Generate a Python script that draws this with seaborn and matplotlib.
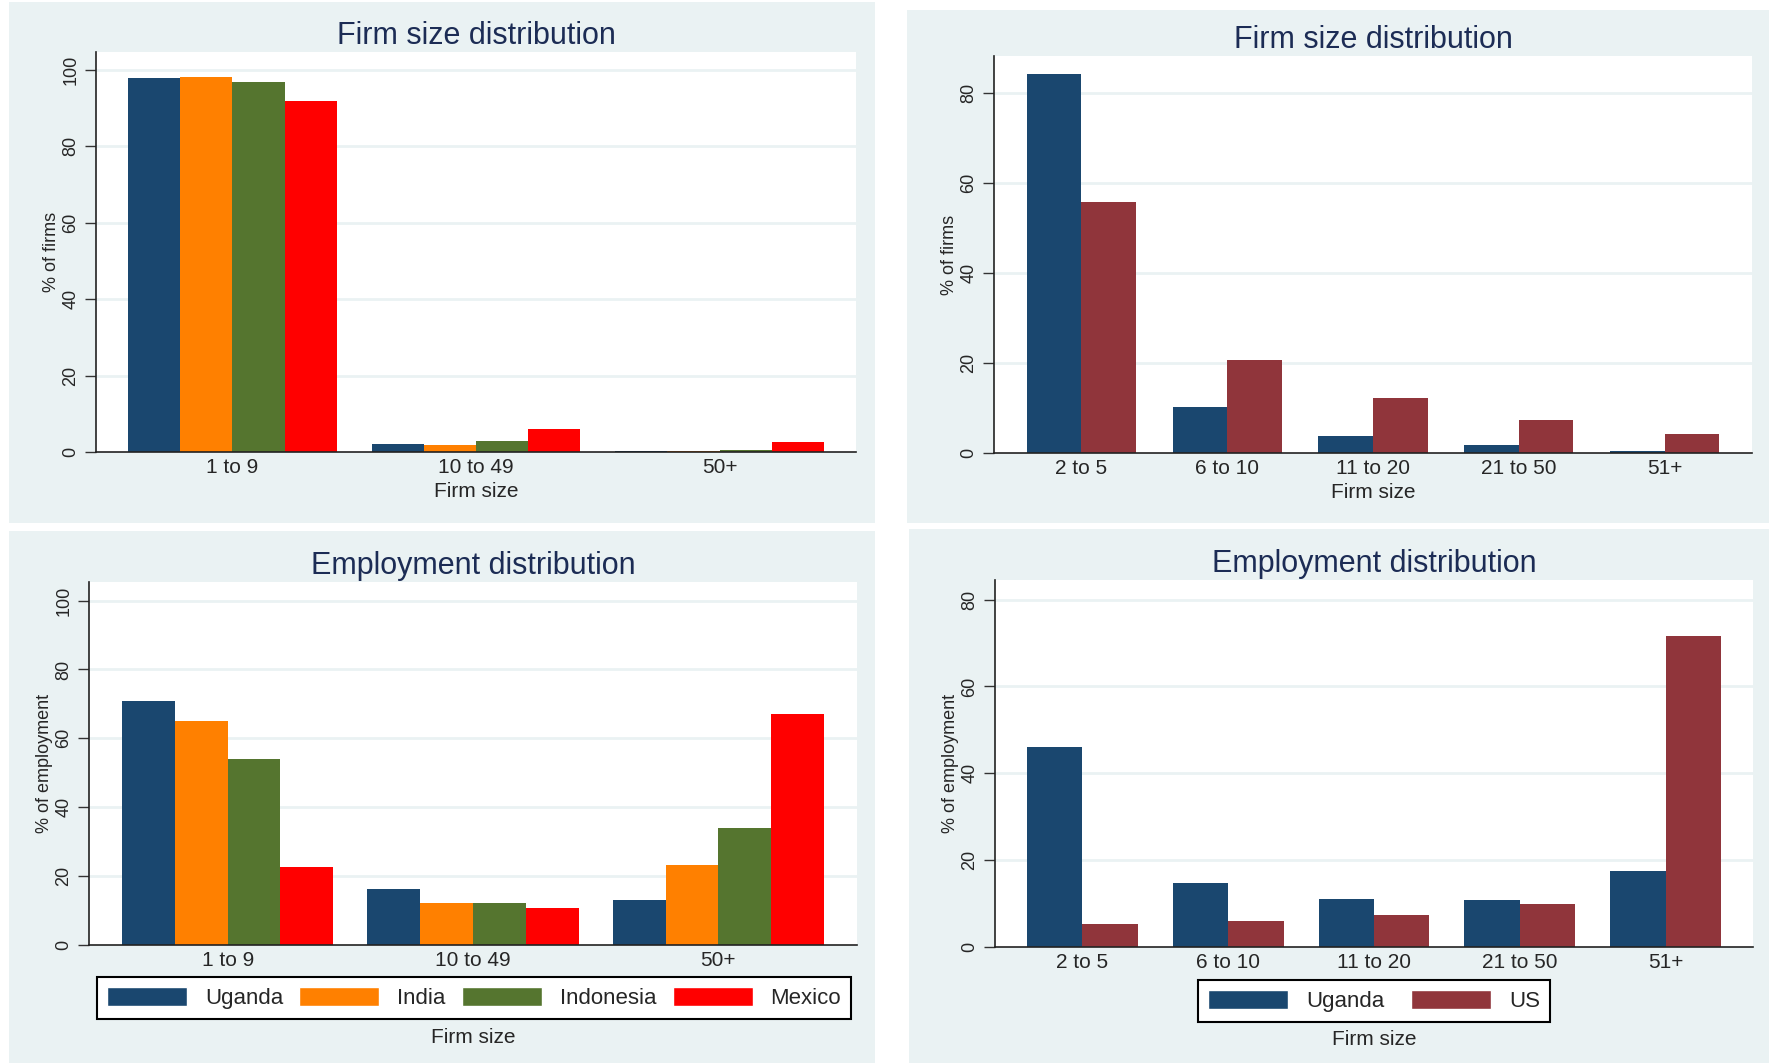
import matplotlib
matplotlib.use("Agg")
import matplotlib.pyplot as plt
from matplotlib.patches import Rectangle
import seaborn as sns
import pandas as pd

# data
sizes_4 = ['1 to 9', '10 to 49', '50+']
countries_4 = ['Uganda', 'India', 'Indonesia', 'Mexico']
firms_4 = {
    'Uganda': [97.8, 2.2, 0.2],
    'India': [98.1, 1.9, 0.3],
    'Indonesia': [96.9, 2.9, 0.5],
    'Mexico': [91.8, 6.0, 2.5],
}
employ_4 = {
    'Uganda': [70.8, 16.2, 13.2],
    'India': [64.9, 12.1, 23.3],
    'Indonesia': [54.0, 12.1, 34.1],
    'Mexico': [22.6, 10.7, 67.0],
}

sizes_us = ['2 to 5', '6 to 10', '11 to 20', '21 to 50', '51+']
countries_us = ['Uganda', 'US']
firms_us = {
    'Uganda': [84.1, 10.2, 3.8, 1.8, 0.4],
    'US': [55.7, 20.6, 12.3, 7.4, 4.3],
}
employ_us = {
    'Uganda': [46.0, 14.8, 11.0, 10.8, 17.6],
    'US': [5.3, 6.1, 7.4, 9.9, 71.6],
}

colors = {'Uganda': '#1a476f', 'India': '#ff8000', 'Indonesia': '#55752f',
          'Mexico': '#ff0000', 'US': '#90353b'}
bg = '#eaf2f3'
title_color = '#1c2c55'

sns.set_theme(style='white')
plt.rcParams['font.family'] = ['Liberation Sans', 'DejaVu Sans']

W, H = 1769, 1063
fig = plt.figure(figsize=(W / 100, H / 100), dpi=100)


def px_rect(x0, y0, x1, y1):
    # pixel box (top-left origin) -> figure fraction [l, b, w, h]
    return [x0 / W, 1 - y1 / H, (x1 - x0) / W, (y1 - y0) / H]


# grey panel backgrounds, kept behind the axes
for x0, y0, x1, y1 in [(9, 2, 875, 523), (907, 10, 1769, 523),
                       (9, 531, 875, 1063), (909, 529, 1769, 1063)]:
    l, b, w, h = px_rect(x0, y0, x1, y1)
    fig.patches.append(Rectangle((l, b), w, h, transform=fig.transFigure,
                                 facecolor=bg, edgecolor='none', zorder=-5))


def to_long(values, sizes, countries):
    rows = []
    for c in countries:
        for s, v in zip(sizes, values[c]):
            rows.append({'size': s, 'country': c, 'value': v})
    return pd.DataFrame(rows)


def draw(box, df, sizes, countries, ylabel, title, ymax, yticks, width, xpad):
    ax = fig.add_axes(px_rect(*box))
    sns.barplot(data=df, x='size', y='value', hue='country', order=sizes,
                hue_order=countries, palette=colors, width=width,
                saturation=1, legend=False, ax=ax, linewidth=0, zorder=3)
    ax.set_facecolor('white')
    ax.set_ylim(0, ymax)
    ax.set_xlim(-xpad, len(sizes) - 1 + xpad)
    ax.set_yticks(yticks)
    ax.set_yticklabels([str(t) for t in yticks], rotation=90, va='center', fontsize=13)
    for t in yticks[1:]:
        ax.axhline(t, color=bg, lw=2, zorder=1)
    ax.tick_params(axis='y', left=True, length=8, width=1, color='#333333', pad=4)
    ax.tick_params(axis='x', bottom=False, length=0, labelsize=15, pad=4)
    for side in ['top', 'right']:
        ax.spines[side].set_visible(False)
    for side in ['left', 'bottom']:
        ax.spines[side].set_color('#222222')
        ax.spines[side].set_linewidth(1.2)
    ax.spines['bottom'].set_zorder(5)
    ax.set_ylabel(ylabel, fontsize=13, labelpad=2)
    ax.set_title(title, fontsize=22, color=title_color, pad=6)
    return ax


def add_legend(ax, countries, box):
    handles = [Rectangle((0, 0), 1, 1, facecolor=colors[c]) for c in countries]
    l, b, w, h = px_rect(*box)
    ax.legend(handles, countries, ncol=len(countries), loc='center',
              bbox_to_anchor=(l, b, w, h), bbox_transform=fig.transFigure,
              mode='expand', fontsize=16, frameon=True, fancybox=False,
              edgecolor='black', framealpha=1, handlelength=3.6,
              handleheight=0.9, handletextpad=0.8, borderaxespad=0,
              borderpad=0.45, columnspacing=1.0)
    ax.get_legend().get_frame().set_linewidth(1.5)


ax1 = draw((96, 52, 856, 452), to_long(firms_4, sizes_4, countries_4), sizes_4,
           countries_4, '% of firms', 'Firm size distribution', 104.7,
           [0, 20, 40, 60, 80, 100], 0.857, 0.56)
ax1.set_xlabel('Firm size', fontsize=15, labelpad=4)

ax2 = draw((994, 56, 1752, 453), to_long(firms_us, sizes_us, countries_us), sizes_us,
           countries_us, '% of firms', 'Firm size distribution', 88.1,
           [0, 20, 40, 60, 80], 0.75, 0.6)
ax2.set_xlabel('Firm size', fontsize=15, labelpad=4)

ax3 = draw((89, 582, 857, 945), to_long(employ_4, sizes_4, countries_4), sizes_4,
           countries_4, '% of employment', 'Employment distribution', 105.4,
           [0, 20, 40, 60, 80, 100], 0.86, 0.565)
ax3.set_xlabel('Firm size', fontsize=15, labelpad=42)
add_legend(ax3, countries_4, (97, 980, 851, 1016))

ax4 = draw((995, 580, 1753, 947), to_long(employ_us, sizes_us, countries_us), sizes_us,
           countries_us, '% of employment', 'Employment distribution', 84.5,
           [0, 20, 40, 60, 80], 0.76, 0.6)
ax4.set_xlabel('Firm size', fontsize=15, labelpad=42)
add_legend(ax4, countries_us, (1198, 983, 1550, 1019))

fig.savefig('out.png', dpi=100, facecolor='white')
